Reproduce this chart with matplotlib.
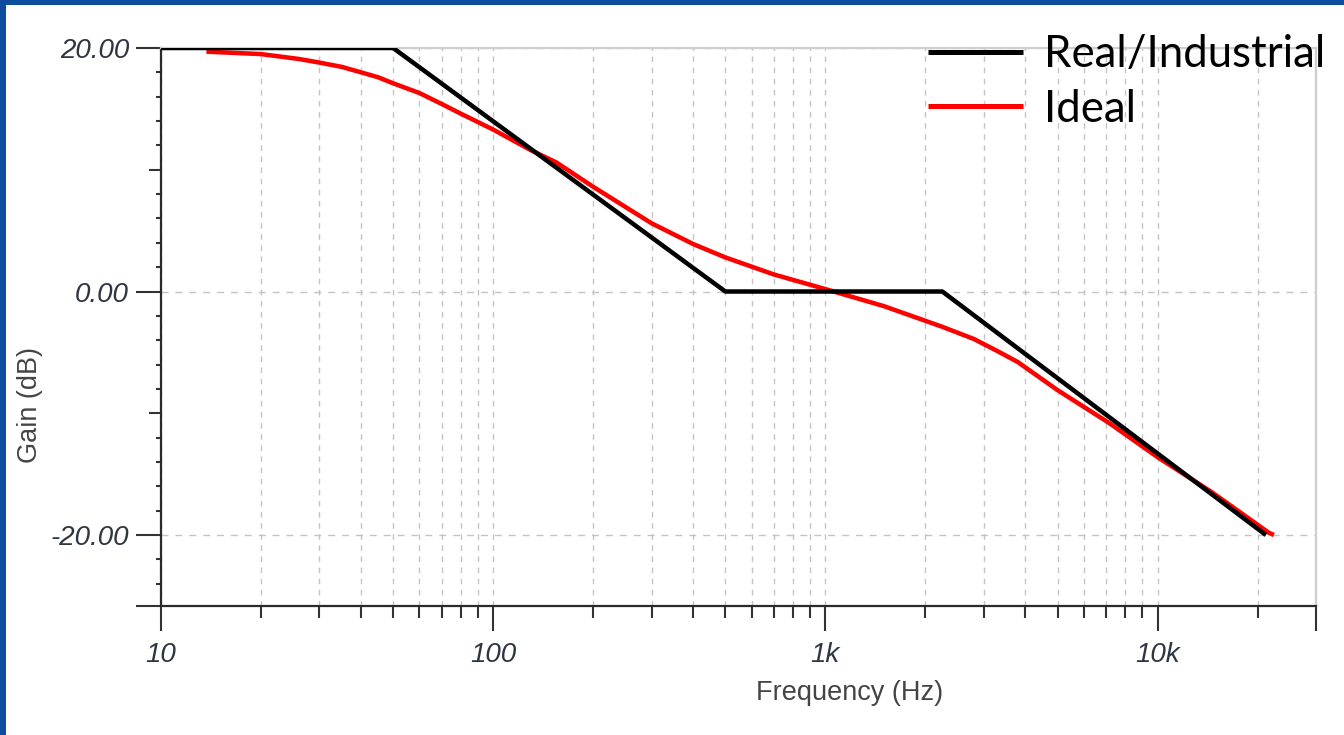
import matplotlib
matplotlib.use("Agg")
import matplotlib.pyplot as plt
from matplotlib.patches import Rectangle
from matplotlib.ticker import NullFormatter

# Bode plot: straight-line (real/industrial) vs ideal response
real_freq = [10, 50, 500, 2250, 21200]
real_gain = [20, 20, 0, 0, -20]

ideal_freq = [13.7, 20, 26, 30, 35, 40, 45, 50, 60, 70, 80, 100, 130, 155, 200,
              300, 400, 500, 700, 1000, 1500, 2250, 2800, 3300, 3800, 5000,
              7150, 10000, 14600, 21600, 22400]
ideal_gain = [19.7, 19.5, 19.1, 18.8, 18.45, 18.0, 17.6, 17.1, 16.3, 15.4, 14.6,
              13.3, 11.6, 10.6, 8.6, 5.6, 3.9, 2.8, 1.4, 0.2, -1.2, -2.9, -3.9,
              -4.9, -5.8, -8.1, -10.8, -13.6, -16.5, -19.8, -20.0]

x_major = [10, 100, 1000, 10000, 30000]
x_labels = ["10", "100", "1k", "10k", ""]
x_minor = [m * d for d in (10, 100, 1000) for m in range(2, 10)] + [20000]

y_bottom = -25.83
y_major = [20, 0, -20, y_bottom]
y_labels = ["20.00", "0.00", "-20.00", ""]
y_minor = [v for v in range(-24, 20, 2) if v not in (20, 0, -20)]

PX = 0.72  # points per pixel at dpi 100
tick_color = "#333333"
label_color = "#2e3641"

fig = plt.figure(figsize=(13.44, 7.35), dpi=100)
fig.patch.set_facecolor("white")
ax = fig.add_axes([161 / 1344, 1 - 606 / 735, 1155 / 1344, 558 / 735])

ax.plot(ideal_freq, ideal_gain, color="#ff0000", lw=4.5 * PX, zorder=3,
        solid_capstyle="butt", solid_joinstyle="round", label="Ideal")
ax.plot(real_freq, real_gain, color="black", lw=4.5 * PX, zorder=4,
        solid_capstyle="butt", label="Real/Industrial")

ax.set_xscale("log")
ax.set_xlim(10, 30000)
ax.set_ylim(y_bottom, 20)

ax.set_xticks(x_major, x_labels)
ax.set_xticks(x_minor, minor=True)
ax.xaxis.set_minor_formatter(NullFormatter())
ax.set_yticks(y_major, y_labels)
ax.set_yticks(y_minor, minor=True)

for lab in ax.get_xticklabels() + ax.get_yticklabels():
    lab.set_fontfamily("Liberation Sans")
    lab.set_fontstyle("italic")
    lab.set_fontsize(20)
    lab.set_color(label_color)

ax.tick_params(axis="x", which="major", direction="out", length=25 * PX,
               width=1.5, color=tick_color, pad=8)
ax.tick_params(axis="x", which="minor", direction="out", length=12 * PX,
               width=1.5, color=tick_color)
ax.tick_params(axis="y", which="major", direction="out", length=25 * PX,
               width=1.5, color=tick_color, pad=5)
ax.tick_params(axis="y", which="minor", direction="out", length=5 * PX,
               width=1.5, color=tick_color)

# medium-length ticks at +/-10 dB
for t, v in zip(ax.yaxis.get_minor_ticks(), y_minor):
    if v in (10, -10):
        t.tick1line.set_markersize(12 * PX)

ax.grid(axis="x", which="both", color="#c4c4c4", lw=1.0, ls=(0, (4, 4)))
ax.grid(axis="y", which="major", color="#c4c4c4", lw=1.0, ls=(0, (5, 5)))
ax.set_axisbelow(True)

for side in ("left", "bottom"):
    ax.spines[side].set_color("#2a2a2a")
    ax.spines[side].set_linewidth(1.6)
for side in ("top", "right"):
    ax.spines[side].set_color("#cfcfcf")
    ax.spines[side].set_linewidth(1.6)

ax.set_xlabel("Frequency (Hz)", fontsize=19.5, color="#444444",
              family="Liberation Sans")
ax.xaxis.set_label_coords(0.596, -0.156)
ax.xaxis.label.set_va("center")
ax.set_ylabel("Gain (dB)", fontsize=19.5, color="#444444",
              family="Liberation Sans")
ax.yaxis.set_label_coords(-0.1134, 0.36)
ax.yaxis.label.set_va("center")

handles, labels = ax.get_legend_handles_labels()
leg = ax.legend(handles[::-1], labels[::-1], loc="upper left",
                bbox_to_anchor=(928 / 1344, 1 - 34 / 735),
                bbox_transform=fig.transFigure, frameon=False,
                prop=dict(family="Lato", size=31.5), handlelength=2.18,
                handletextpad=0.47, borderpad=0, borderaxespad=0,
                labelspacing=0.31)
for line in leg.get_lines():
    line.set_linewidth(5 * PX)

# blue slide border on the left and top
fig.add_artist(Rectangle((0, 0), 6 / 1344, 1, transform=fig.transFigure,
                         color="#0e4c9e", lw=0))
fig.add_artist(Rectangle((0, 1 - 5 / 735), 1, 5 / 735,
                         transform=fig.transFigure, color="#0e4c9e", lw=0))

fig.savefig("out.png", dpi=100)
